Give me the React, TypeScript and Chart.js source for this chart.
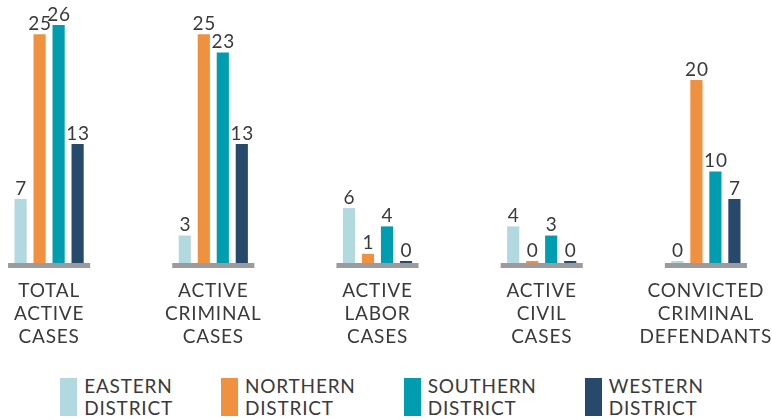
import React, { useEffect, useRef } from "react";
import { Chart, registerables } from "chart.js";

Chart.register(...registerables);

const categories: string[][] = [
  ["TOTAL", "ACTIVE", "CASES"],
  ["ACTIVE", "CRIMINAL", "CASES"],
  ["ACTIVE", "LABOR", "CASES"],
  ["ACTIVE", "CIVIL", "CASES"],
  ["CONVICTED", "CRIMINAL", "DEFENDANTS"],
];
const seriesNames = ["EASTERN DISTRICT", "NORTHERN DISTRICT", "SOUTHERN DISTRICT", "WESTERN DISTRICT"];
const eastern = [7, 3, 6, 4, 0];
const northern = [25, 25, 1, 0, 20];
const southern = [26, 23, 4, 3, 10];
const western = [13, 13, 0, 0, 7];
const seriesColors = ["#B2D9E0", "#F0913F", "#009DB0", "#27496B"];

const FONT = "Lato, 'Open Sans', sans-serif";
const TEXT = "#3a3a3a";
const SPACING = "0.8px";

const spacingPlugin = {
  id: "spacing",
  beforeDraw(chart: any) {
    (chart.ctx as any).letterSpacing = SPACING;
  },
};

const baselinePlugin = {
  id: "baseline",
  beforeDatasetsDraw(chart: any) {
    const { ctx, scales } = chart;
    const x = scales.x;
    const y = scales.y;
    const y0 = y.getPixelForValue(0);
    const w = (x.getPixelForValue(1) - x.getPixelForValue(0)) * 0.5;
    ctx.save();
    ctx.fillStyle = "#9B9B9F";
    categories.forEach((_, i) => {
      const cx = x.getPixelForValue(i);
      ctx.fillRect(cx - w / 2, y0, w, 5);
    });
    ctx.restore();
  },
};

const valueLabelPlugin = {
  id: "valueLabels",
  afterDatasetsDraw(chart: any) {
    const { ctx } = chart;
    ctx.save();
    ctx.fillStyle = TEXT;
    ctx.font = `400 19px ${FONT}`;
    ctx.textAlign = "center";
    ctx.textBaseline = "bottom";
    chart.data.datasets.forEach((ds: any, di: number) => {
      const meta = chart.getDatasetMeta(di);
      meta.data.forEach((bar: any, i: number) => {
        ctx.fillText(String(ds.data[i]), bar.x + 0.5, bar.y - 1);
      });
    });
    ctx.restore();
  },
};

export default function App() {
  const ref = useRef<HTMLCanvasElement | null>(null);

  useEffect(() => {
    if (!ref.current) return;
    const values = [eastern, northern, southern, western];
    const chart = new Chart(ref.current, {
      type: "bar",
      data: {
        labels: categories,
        datasets: values.map((v, i) => ({
          label: seriesNames[i],
          data: v,
          backgroundColor: seriesColors[i],
          barPercentage: 0.64,
          categoryPercentage: 0.463,
          minBarLength: 2,
        })),
      },
      options: {
        animation: false,
        responsive: false,
        devicePixelRatio: 1,
        layout: { padding: { top: 25, left: 0, right: 0, bottom: 0 } },
        plugins: {
          legend: { display: false },
          tooltip: { enabled: false },
        },
        scales: {
          x: {
            grid: { display: false, drawTicks: false },
            border: { display: false },
            ticks: {
              color: TEXT,
              font: { family: FONT, size: 19, weight: "400", lineHeight: 1.22 },
              padding: 16,
              maxRotation: 0,
              autoSkip: false,
            },
            afterFit: (scale: any) => {
              scale.height = 87;
            },
          },
          y: { display: false, min: 0, max: 26 },
        },
      },
      plugins: [spacingPlugin, baselinePlugin, valueLabelPlugin],
    });
    return () => chart.destroy();
  }, []);

  return (
    <div
      style={{
        position: "fixed",
        left: 0,
        top: 0,
        width: 772,
        height: 420,
        overflow: "hidden",
        background: "#fff",
      }}
    >
      <canvas
        ref={ref}
        width={821}
        height={350}
        style={{ position: "absolute", left: -33, top: 0, width: 821, height: 350 }}
      />
      <div
        style={{
          position: "absolute",
          top: 378,
          left: 0,
          width: 772,
          display: "flex",
          justifyContent: "center",
          gap: 48,
          paddingRight: 8,
          boxSizing: "border-box",
        }}
      >
        {seriesNames.map((name, i) => {
          const parts = name.split(" ");
          return (
            <div key={name} style={{ display: "flex", alignItems: "flex-start" }}>
              <div style={{ width: 17, height: 38, background: seriesColors[i], marginRight: 7 }} />
              <div
                style={{
                  fontFamily: FONT,
                  fontSize: 19,
                  fontWeight: 400,
                  letterSpacing: SPACING,
                  lineHeight: "22px",
                  color: TEXT,
                  marginTop: -3,
                  whiteSpace: "nowrap",
                }}
              >
                {parts[0]}
                <br />
                {parts[1]}
              </div>
            </div>
          );
        })}
      </div>
    </div>
  );
}
